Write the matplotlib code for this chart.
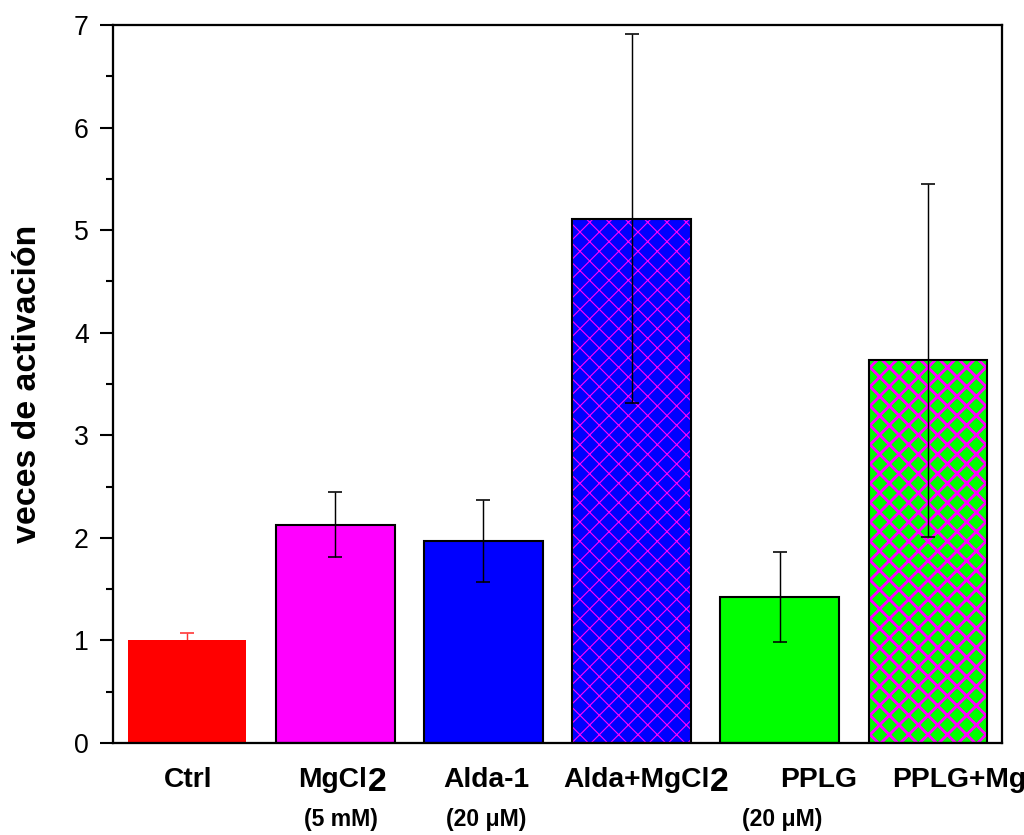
import matplotlib.pyplot as plt
import numpy as np

plt.rcParams['font.family'] = ['Liberation Sans', 'DejaVu Sans']

# data
groups = ['Ctrl', 'MgCl', 'Alda-1', 'Alda+MgCl', 'PPLG', 'PPLG+Mg']
subscripts = ['', '2', '', '2', '', '']
concentrations = ['', '(5 mM)', '(20 \u03bcM)', '', '(20 \u03bcM)', '']
values = [1.00, 2.13, 1.97, 5.11, 1.42, 3.73]
errors = [0.07, 0.32, 0.40, 1.80, 0.44, 1.72]

# styles
face_colors = ['#ff0000', '#ff00ff', '#0000ff', '#0000ff', '#00ff00', '#00ff00']
edge_colors = ['none', 'black', 'black', 'black', 'black', 'black']
err_colors = ['#ff3030', 'black', 'black', 'black', 'black', 'black']
hatches = ['', '', '', 'xx', '', 'xx']
hatch_lw = [0.6, 0.6, 0.6, 0.7, 0.6, 1.8]
label_left = [0.845, 1.749, 2.727, 3.537, 5.002, 5.757]  # left edge of the group names
conc_center = [0, 2.04, 3.02, 0, 5.015, 0]

DPI = 116
fig = plt.figure(figsize=(1024 / DPI, 835 / DPI), dpi=DPI)
ax = fig.add_axes([113 / 1024, 1 - 743 / 835, (1002 - 113) / 1024, (743 - 25) / 835])

x = np.arange(1, len(values) + 1)
for i in range(len(values)):
    if hatches[i]:
        with plt.rc_context({'hatch.linewidth': hatch_lw[i], 'hatch.color': '#ff00ff'}):
            b = ax.bar(x[i], values[i], width=0.8, color=face_colors[i],
                       edgecolor='#ff00ff', linewidth=0, hatch=hatches[i], zorder=2)
            for p in b:
                if hasattr(p, 'set_hatch_linewidth'):
                    p.set_hatch_linewidth(hatch_lw[i])
        ax.bar(x[i], values[i], width=0.8, facecolor='none',
               edgecolor='black', linewidth=1.3, zorder=3)
    else:
        ax.bar(x[i], values[i], width=0.8, color=face_colors[i],
               edgecolor=edge_colors[i], linewidth=1.3, zorder=2)
    # the control's lower whisker hides behind its own bar
    ax.errorbar(x[i], values[i], yerr=errors[i], fmt='none', ecolor=err_colors[i],
                elinewidth=0.9, capsize=4.5, capthick=1.0,
                zorder=1 if i == 0 else 4)

ax.set_xlim(0.5, 6.5)
ax.set_ylim(0, 7)
ax.set_yticks(range(0, 8))
ax.set_yticks(np.arange(0.5, 7, 1), minor=True)
ax.tick_params(axis='y', which='major', direction='out', length=8, width=1.3,
               labelsize=16.5, pad=7)
ax.tick_params(axis='y', which='minor', direction='out', length=4.5, width=1.3)
ax.set_xticks([])
for s in ax.spines.values():
    s.set_linewidth(1.4)

ax.set_ylabel('veces de activaci\u00f3n', fontsize=21, fontweight='bold', labelpad=19)

trans = ax.get_xaxis_transform()
for i in range(len(groups)):
    t = ax.text(label_left[i], -0.061, groups[i], transform=trans, ha='left',
                va='baseline', fontsize=17.5, fontweight='bold')
    if subscripts[i]:
        ax.annotate(subscripts[i], xy=(1, 0), xycoords=t, xytext=(0.5, -3.5),
                    textcoords='offset points', ha='left', va='bottom',
                    fontsize=21, fontweight='bold', annotation_clip=False)
    if concentrations[i]:
        ax.text(conc_center[i], -0.107, concentrations[i], transform=trans,
                ha='center', va='center', fontsize=14.3, fontweight='bold')

fig.savefig('out.png', dpi=DPI)
